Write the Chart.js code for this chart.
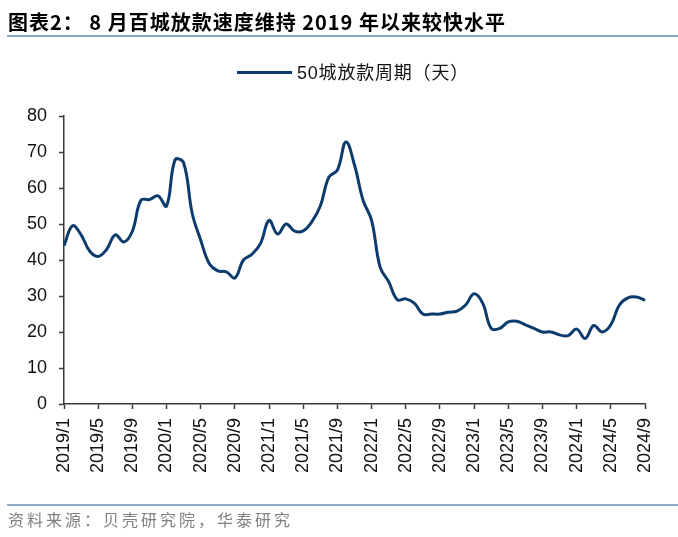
<!DOCTYPE html>
<html>
<head>
<meta charset="utf-8">
<script src="https://cdn.jsdelivr.net/npm/chart.js@4"></script>
<style>
  html, body { margin: 0; padding: 0; background: #fff; }
  #wrap { position: relative; width: 678px; height: 537px; overflow: hidden; }
  #grafico { position: absolute; left: 0; top: 0; }
  .titulo { position: absolute; left: 8px; top: 11px; font: bold 20px "Noto Sans CJK SC", sans-serif; letter-spacing: 1px; line-height: 22px; color: #000; white-space: nowrap; }
  .regua { position: absolute; left: 7px; right: 0; height: 2px; background: #8eaacb; }
  .legenda-linha { position: absolute; left: 237px; top: 71px; width: 55px; height: 3px; background: #0c3b6d; }
  .legenda-texto { position: absolute; left: 297px; top: 61px; font: 18px "Liberation Sans", "Noto Sans CJK SC", sans-serif; letter-spacing: 0.8px; line-height: 24px; color: #111; white-space: nowrap; }
  .fonte { position: absolute; left: 8px; top: 509px; font: 16px "Noto Sans CJK SC", sans-serif; letter-spacing: 3px; line-height: 20px; color: #808080; white-space: nowrap; }
</style>
</head>
<body>
<div id="wrap">
  <canvas id="grafico" width="678" height="537"></canvas>
  <div class="titulo">图表2：&nbsp;8 月百城放款速度维持 2019 年以来较快水平</div>
  <div class="regua" style="top:35px"></div>
  <div class="legenda-linha"></div>
  <div class="legenda-texto">50城放款周期（天）</div>
  <div class="regua" style="top:504px"></div>
  <div class="fonte">资料来源：贝壳研究院，华泰研究</div>
</div>
<script>
(() => {

  // meses de 2019/1 a 2024/9
  const meses = []
  for (let ano = 2019; ano <= 2024; ano++)
    for (let m = 1; m <= 12; m++)
      if (ano < 2024 || m <= 9) meses.push(ano + '/' + m)

  // 50城放款周期（天）
  const periodo = [
    44, 49.5, 47, 42.5, 41, 43, 47, 45, 48, 56.6, 56.8, 57.8,
    55, 67.8, 67, 53, 45.5, 39, 37, 36.7, 35, 40, 41.6, 44.6,
    51, 47.2, 50, 48, 48.1, 50.6, 55, 63, 65, 72.8, 66.4, 56.6,
    51, 38, 34, 29, 29.2, 28, 25, 25, 25, 25.5, 25.8, 27.5,
    30.6, 28, 21, 21, 22.8, 23, 22, 21, 20, 20, 19.2, 19,
    20.8, 18.2, 21.8, 20, 22, 27.5, 29.5, 29.7, 28.8
  ]

  const ticksY = [0, 10, 20, 30, 40, 50, 60, 70, 80]

  const corLinha = '#0c3b6d'
  const corEixo = '#3a3a3a'
  const fonteY = { family: "'Liberation Sans', Arial, sans-serif", size: 18 }
  const fonteX = { family: "'Liberation Sans', Arial, sans-serif", size: 18 }

  const config = {
    type: 'line',
    data: {
      labels: meses,
      datasets: [{
        label: '50城放款周期（天）',
        data: periodo,
        borderColor: corLinha,
        borderWidth: 3,
        pointRadius: 0,
        tension: 0.4,
        fill: false
      }]
    },
    options: {
      responsive: false,
      animation: false,
      layout: { padding: { top: 116, right: 33, bottom: 0, left: 0 } },
      plugins: {
        legend: { display: false },
        tooltip: { enabled: false }
      },
      scales: {
        x: {
          type: 'category',
          offset: false,
          border: { display: true, color: corEixo, width: 1.5 },
          grid: {
            display: true,
            drawOnChartArea: false,
            drawTicks: true,
            tickLength: 5,
            tickColor: ctx => (ctx.index % 4 === 0 ? corEixo : 'rgba(0,0,0,0)'),
            tickWidth: 1.5
          },
          ticks: {
            autoSkip: false,
            maxRotation: 90,
            minRotation: 90,
            padding: 9,
            color: '#111',
            font: fonteX,
            callback: (v, i) => (i % 4 === 0 ? meses[i] : '')
          },
          afterFit: escala => { escala.height = 133 }
        },
        y: {
          min: 0,
          max: 80,
          border: { display: true, color: corEixo, width: 1.5 },
          grid: {
            display: true,
            drawOnChartArea: false,
            drawTicks: true,
            tickLength: 5,
            tickColor: corEixo,
            tickWidth: 1.5
          },
          afterBuildTicks: escala => { escala.ticks = ticksY.map(v => ({ value: v })) },
          ticks: {
            padding: 12,
            color: '#111',
            font: fonteY
          },
          afterFit: escala => { escala.width = 64 }
        }
      }
    }
  }

  new Chart(document.getElementById('grafico'), config)

})()
</script>
</body>
</html>
